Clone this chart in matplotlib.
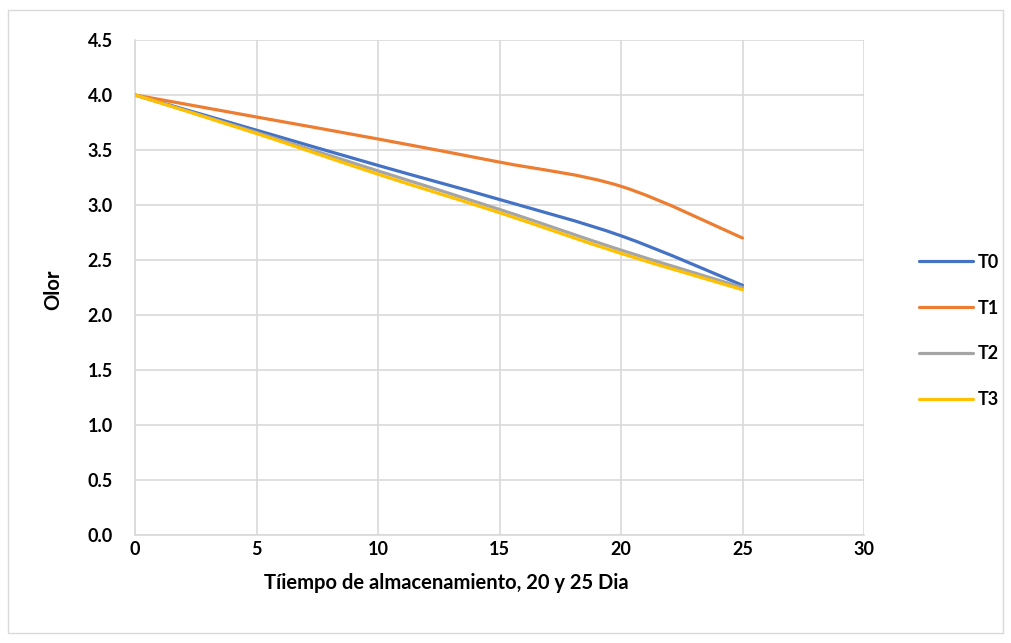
import matplotlib
matplotlib.use("Agg")
import matplotlib.pyplot as plt
import numpy as np
from matplotlib.path import Path
from matplotlib.patches import PathPatch, Rectangle
from matplotlib.lines import Line2D

days = [0, 5, 10, 15, 20, 25]
T0 = [4.0, 3.68, 3.36, 3.05, 2.72, 2.27]
T1 = [4.0, 3.80, 3.60, 3.39, 3.17, 2.70]
T2 = [4.0, 3.66, 3.31, 2.96, 2.59, 2.25]
T3 = [4.0, 3.65, 3.28, 2.93, 2.56, 2.23]
series_names = ["T0", "T1", "T2", "T3"]
series_vals = [T0, T1, T2, T3]
colors = ["#4472C4", "#ED7D31", "#A5A5A5", "#FFC000"]
xticks = [0, 5, 10, 15, 20, 25, 30]
yticks = [0.0, 0.5, 1.0, 1.5, 2.0, 2.5, 3.0, 3.5, 4.0, 4.5]

FONT = ["Lato", "DejaVu Sans"]
plt.rcParams['font.family'] = FONT

fig = plt.figure(figsize=(10.11, 6.43), dpi=100)
W, H = 1011, 643
L, R, T, B = 135, 864, 40, 535
ax = fig.add_axes([L / W, 1 - B / H, (R - L) / W, (B - T) / H])

def smooth_path(x, y):
    pts = np.column_stack([x, y]).astype(float)
    n = len(pts)
    verts = [pts[0]]
    codes = [Path.MOVETO]
    for i in range(n - 1):
        p0 = pts[i - 1] if i > 0 else pts[i]
        p1 = pts[i]
        p2 = pts[i + 1]
        p3 = pts[i + 2] if i + 2 < n else pts[i + 1]
        c1 = p1 + (p2 - p0) / 6.0
        c2 = p2 - (p3 - p1) / 6.0
        verts += [c1, c2, p2]
        codes += [Path.CURVE4] * 3
    return Path(verts, codes)

for name, vals, c in zip(series_names, series_vals, colors):
    patch = PathPatch(smooth_path(days, vals), facecolor="none", edgecolor=c,
                      lw=2.3, capstyle="round", joinstyle="round", zorder=3)
    ax.add_patch(patch)

ax.set_xlim(0, 30)
ax.set_ylim(0, 4.5)
ax.set_xticks(xticks)
ax.set_yticks(yticks)
ax.set_yticklabels([f"{v:.1f}" for v in yticks])
ax.grid(True, color="#D9D9D9", lw=1.2)
ax.set_axisbelow(True)
for s in ["top", "right"]:
    ax.spines[s].set_visible(False)
for s in ["left", "bottom"]:
    ax.spines[s].set_color("#D9D9D9")
    ax.spines[s].set_linewidth(1.2)
ax.tick_params(axis="y", length=0, labelsize=13, pad=16)
ax.tick_params(axis="x", length=0, labelsize=13, pad=4)
for lab in ax.get_xticklabels() + ax.get_yticklabels():
    lab.set_fontweight("bold")

ax.set_xlabel("Tíiempo de almacenamiento, 20 y 25 Dia", fontsize=14.5, fontweight="bold")
ax.set_ylabel("Olor", fontsize=14.5, fontweight="bold")
ax.xaxis.set_label_coords((446 - L) / (R - L), -(583 - B) / (B - T), transform=ax.transAxes)
ax.xaxis.label.set_va("center")
ax.yaxis.set_label_coords(-(L - 53) / (R - L), (B - 290) / (B - T), transform=ax.transAxes)
ax.yaxis.label.set_va("center")

handles = [Line2D([0], [0], color=c, lw=2.3, solid_capstyle="round") for c in colors]
leg = fig.legend(handles, series_names, loc="center left",
                 bbox_to_anchor=(903 / W, 1 - 331 / H), frameon=False,
                 prop={"weight": "bold", "size": 13, "family": FONT},
                 handlelength=3.0, labelspacing=1.6, handletextpad=0.25)

fig.patches.append(Rectangle((8 / W, 1 - 633 / H), (1003 - 8) / W, (633 - 10) / H,
                             transform=fig.transFigure, fill=False,
                             edgecolor="#D9D9D9", lw=1.0))

fig.savefig("out.png", dpi=100)
